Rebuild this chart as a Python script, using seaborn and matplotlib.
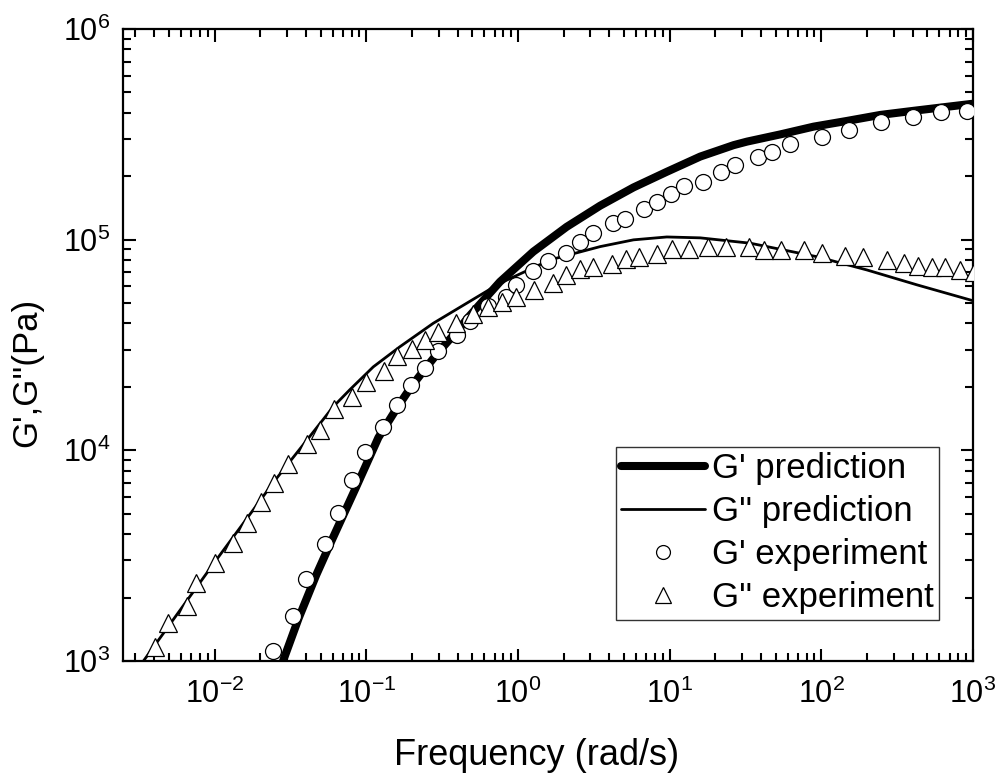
import numpy as np
import pandas as pd
import matplotlib
matplotlib.use("Agg")
import matplotlib.pyplot as plt
from matplotlib.lines import Line2D
from matplotlib.ticker import LogLocator, LogFormatterSciNotation, NullFormatter
import seaborn as sns

# ---------------- data ----------------
# G' experiment (circles)
gp_exp_freq = [0.0243, 0.0326, 0.0397, 0.0532, 0.0646, 0.0798, 0.0977, 0.129, 0.160, 0.197,
               0.243, 0.298, 0.394, 0.482, 0.637, 0.830, 0.970, 1.26, 1.58, 2.07,
               2.56, 3.14, 4.20, 5.08, 6.82, 8.22, 10.2, 12.5, 16.6, 21.9,
               27.0, 38.5, 47.2, 61.8, 101, 153, 249, 401, 611, 916]
gp_exp_val = [1110, 1630, 2440, 3580, 5060, 7240, 9790, 12900, 16400, 20400,
              24500, 29600, 35300, 41300, 48400, 53700, 61000, 71000, 79400, 86100,
              98000, 107000, 120000, 125000, 140000, 151000, 164000, 179000, 188000, 210000,
              226000, 248000, 262000, 284000, 306000, 332000, 361000, 381000, 403000, 409000]

# G'' experiment (triangles)
gpp_exp_freq = [0.00402, 0.00492, 0.00656, 0.00757, 0.0100, 0.0132, 0.0162, 0.0203, 0.0245, 0.0305,
                0.0403, 0.0493, 0.0610, 0.0805, 0.0989, 0.131, 0.160, 0.199, 0.243, 0.298,
                0.390, 0.501, 0.637, 0.785, 0.966, 1.28, 1.69, 2.07, 2.56, 3.14,
                4.15, 5.14, 6.32, 8.30, 10.3, 13.5, 18.0, 23.6, 33.1, 41.6,
                54.2, 76.4, 101, 144, 188, 269, 349, 433, 538, 658,
                818, 1010]
gpp_exp_val = [1170, 1520, 1830, 2350, 2920, 3630, 4520, 5690, 6980, 8590,
               10700, 12500, 15700, 17900, 21200, 23700, 27900, 30300, 33400, 36300,
               40100, 44200, 48100, 50700, 53300, 57700, 62500, 67900, 72400, 74500,
               76400, 80700, 83000, 85300, 89900, 89900, 92000, 92000, 92000, 89300,
               89300, 89300, 86700, 83800, 82400, 80200, 77800, 75000, 74000, 74000,
               71800, 70500]

# G' prediction (thick line)
gp_pred_freq = [0.0265, 0.0282, 0.0358, 0.0468, 0.0589, 0.0861, 0.120, 0.160, 0.197, 0.243,
                0.298, 0.394, 0.482, 0.760, 1.26, 2.09, 3.48, 5.77, 9.57, 15.9,
                26.4, 32.3, 53.6, 88.9, 147, 245, 406, 1000]
gp_pred_val = [880, 1000, 1600, 2570, 3720, 6760, 11500, 16000, 20000, 24300,
               29200, 36700, 43700, 63100, 87700, 115000, 145000, 177000, 210000, 248000,
               281000, 292000, 316000, 344000, 366000, 391000, 409000, 442000]

# G'' prediction (thin line)
gpp_pred_freq = [0.00295, 0.0100, 0.0251, 0.0398, 0.0604, 0.0778, 0.111, 0.166, 0.276, 0.458,
                 0.760, 1.63, 3.48, 5.77, 9.57, 15.9, 34.0, 93.5, 200, 428, 1000]
gpp_pred_val = [871, 2950, 7240, 11000, 16100, 19400, 24900, 31000, 40100, 49900,
                62100, 80200, 92700, 99800, 103000, 102000, 96200, 83000, 71800, 61000, 51300]

legend_labels = ["G' prediction", "G'' prediction", "G' experiment", "G'' experiment"]
x_label = "Frequency (rad/s)"
y_label = "G',G''(Pa)"

# ---------------- style ----------------
sns.set_theme(style="ticks")
plt.rcParams["font.family"] = ["Liberation Sans", "DejaVu Sans"]
plt.rcParams["mathtext.fontset"] = "custom"
plt.rcParams["mathtext.rm"] = "Liberation Sans"
plt.rcParams["mathtext.it"] = "Liberation Sans:italic"
plt.rcParams["mathtext.bf"] = "Liberation Sans:bold"
plt.rcParams["axes.unicode_minus"] = False
for k in ["text.color", "axes.labelcolor", "xtick.color", "ytick.color", "axes.edgecolor"]:
    plt.rcParams[k] = "black"

fig = plt.figure(figsize=(10.01, 7.74), dpi=100)
ax = fig.add_axes([123 / 1001, 1 - 661 / 774, 850 / 1001, 632 / 774])

df_gp_pred = pd.DataFrame({"f": gp_pred_freq, "g": gp_pred_val})
df_gpp_pred = pd.DataFrame({"f": gpp_pred_freq, "g": gpp_pred_val})
df_gp_exp = pd.DataFrame({"f": gp_exp_freq, "g": gp_exp_val})
df_gpp_exp = pd.DataFrame({"f": gpp_exp_freq, "g": gpp_exp_val})

sns.lineplot(data=df_gp_pred, x="f", y="g", ax=ax, color="black", linewidth=5.8,
             sort=False, estimator=None, zorder=2)
sns.lineplot(data=df_gpp_pred, x="f", y="g", ax=ax, color="black", linewidth=2.0,
             sort=False, estimator=None, zorder=2)
ax.plot(df_gp_exp["f"], df_gp_exp["g"], linestyle="none", marker="o", markersize=11.5,
        markerfacecolor="white", markeredgecolor="black", markeredgewidth=0.9, zorder=3)
ax.plot(df_gpp_exp["f"], df_gpp_exp["g"], linestyle="none", marker="^", markersize=13,
        markerfacecolor="white", markeredgecolor="black", markeredgewidth=0.9, zorder=3)

ax.set_xscale("log")
ax.set_yscale("log")
ax.set_xlim(10 ** -2.605, 1000)
ax.set_ylim(1e3, 1e6)

ax.xaxis.set_major_locator(LogLocator(base=10, numticks=20))
ax.yaxis.set_major_locator(LogLocator(base=10, numticks=20))
ax.xaxis.set_minor_locator(LogLocator(base=10, subs=np.arange(2, 10), numticks=20))
ax.yaxis.set_minor_locator(LogLocator(base=10, subs=np.arange(2, 10), numticks=20))
ax.xaxis.set_major_formatter(LogFormatterSciNotation())
ax.yaxis.set_major_formatter(LogFormatterSciNotation())
ax.xaxis.set_minor_formatter(NullFormatter())
ax.yaxis.set_minor_formatter(NullFormatter())

for sp in ax.spines.values():
    sp.set_linewidth(1.6)
    sp.set_color("black")
    sp.set_visible(True)

ax.tick_params(which="both", direction="in", top=True, right=True, color="black",
               width=1.5)
ax.tick_params(which="major", length=9, labelsize=22)
ax.tick_params(which="minor", length=5.5)
ax.tick_params(axis="x", which="major", pad=13)
ax.tick_params(axis="y", which="major", pad=9)

ax.set_xlabel(x_label, fontsize=26)
ax.set_ylabel(y_label, fontsize=25)
ax.xaxis.set_label_coords(0.486, -0.122)
ax.yaxis.set_label_coords(-0.094, 0.456)
ax.grid(False)

handles = [
    Line2D([], [], color="black", linewidth=5.8, solid_capstyle="round"),
    Line2D([], [], color="black", linewidth=2.0),
    Line2D([], [], linestyle="none", marker="o", markersize=10, markerfacecolor="white",
           markeredgecolor="black", markeredgewidth=0.9),
    Line2D([], [], linestyle="none", marker="^", markersize=11, markerfacecolor="white",
           markeredgecolor="black", markeredgewidth=0.9),
]
leg = ax.legend(handles, legend_labels, loc="lower right",
                bbox_to_anchor=((939 - 123) / 850, (661 - 620) / 632),
                borderaxespad=0, fontsize=25, frameon=True, fancybox=False,
                framealpha=1, edgecolor="#333333", handlelength=2.4,
                handletextpad=0.2, labelspacing=0.29, borderpad=0.16)
leg.get_frame().set_linewidth(1.0)

fig.savefig("out.png", dpi=100)
